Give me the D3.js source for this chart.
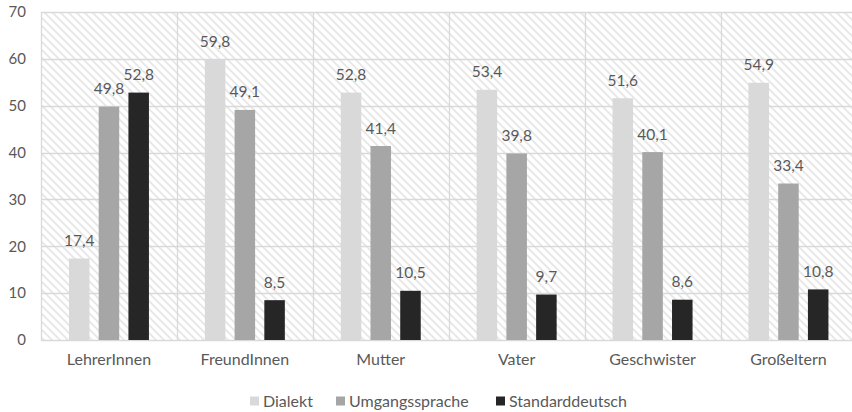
<!DOCTYPE html>
<html>
<head>
<meta charset="utf-8">
<script src="https://cdn.jsdelivr.net/npm/d3@7"></script>
<style>
  html, body { margin: 0; padding: 0; background: #ffffff; }
  svg { display: block; }
  text { font-family: Lato, "Open Sans", sans-serif; fill: #595959; }
</style>
</head>
<body>
<svg id="chart" width="852" height="412"></svg>
<script>
const categories = ["LehrerInnen", "FreundInnen", "Mutter", "Vater", "Geschwister", "Großeltern"];
const seriesNames = ["Dialekt", "Umgangssprache", "Standarddeutsch"];
const dialekt = [17.4, 59.8, 52.8, 53.4, 51.6, 54.9];
const umgangssprache = [49.8, 49.1, 41.4, 39.8, 40.1, 33.4];
const standarddeutsch = [52.8, 8.5, 10.5, 9.7, 8.6, 10.8];
const yTicks = [0, 10, 20, 30, 40, 50, 60, 70];
const colors = ["#d9d9d9", "#a6a6a6", "#262626"];

const seriesValues = [dialekt, umgangssprache, standarddeutsch];
const data = categories.map((c, i) => ({
  category: c,
  values: seriesNames.map((s, j) => ({ series: s, value: seriesValues[j][i], color: colors[j] }))
}));

const svg = d3.select("#chart");
const plot = { left: 41, top: 12, right: 856.4, bottom: 340 };

const x = d3.scaleBand().domain(categories).range([plot.left, plot.right]).paddingInner(0).paddingOuter(0);
const x1 = d3.scaleBand().domain(seriesNames).range([0, x.bandwidth()]).paddingInner(0.31).paddingOuter(0.94);
const y = d3.scaleLinear().domain([0, 70]).range([plot.bottom, plot.top]);

// hatch pattern
const defs = svg.append("defs");
const pat = defs.append("pattern")
  .attr("id", "hatch")
  .attr("patternUnits", "userSpaceOnUse")
  .attr("width", 8).attr("height", 8);
pat.append("rect").attr("width", 8).attr("height", 8).attr("fill", "#ffffff");
pat.append("path")
  .attr("d", "M-2,-2 L10,10 M-2,6 L2,10 M6,-2 L10,2")
  .attr("stroke", "#e6e6e6").attr("stroke-width", 1.7).attr("fill", "none");

svg.append("rect")
  .attr("x", plot.left).attr("y", plot.top)
  .attr("width", plot.right - plot.left).attr("height", plot.bottom - plot.top)
  .attr("fill", "url(#hatch)");

// horizontal gridlines
svg.append("g").selectAll("line").data(yTicks).join("line")
  .attr("x1", plot.left).attr("x2", plot.right)
  .attr("y1", d => Math.round(y(d)) + 0.5).attr("y2", d => Math.round(y(d)) + 0.5)
  .attr("stroke", "#d9d9d9").attr("stroke-width", 1.3);

// vertical gridlines (group separators)
const seps = categories.map(c => x(c)).concat([x(categories[categories.length - 1]) + x.bandwidth()]);
svg.append("g").selectAll("line").data(seps).join("line")
  .attr("x1", d => Math.round(d) + 0.5).attr("x2", d => Math.round(d) + 0.5)
  .attr("y1", plot.top).attr("y2", plot.bottom)
  .attr("stroke", "#d9d9d9").attr("stroke-width", 1.3);

// y axis labels
const yAxis = d3.axisLeft(y).tickValues(yTicks).tickSize(0).tickPadding(0).tickFormat(d3.format("d"));
const gy = svg.append("g").attr("transform", `translate(26,0)`).call(yAxis);
gy.select(".domain").remove();
gy.selectAll("text").attr("font-size", 15).attr("fill", "#595959").style("font-family", "Lato, sans-serif");

// x axis labels
const xAxis = d3.axisBottom(x).tickSize(0).tickPadding(0);
const gx = svg.append("g").attr("transform", `translate(0,${plot.bottom + 14})`).call(xAxis);
gx.select(".domain").remove();
gx.selectAll("text").attr("font-size", 16).attr("fill", "#595959").style("font-family", "Lato, sans-serif");

// bars
const groups = svg.append("g").selectAll("g").data(data).join("g")
  .attr("transform", d => `translate(${x(d.category)},0)`);

groups.selectAll("rect").data(d => d.values).join("rect")
  .attr("x", d => x1(d.series))
  .attr("width", x1.bandwidth())
  .attr("y", d => y(d.value))
  .attr("height", d => y(0) - y(d.value))
  .attr("fill", d => d.color);

const fmt = v => d3.format(".1f")(v).replace(".", ",");
groups.selectAll("text.val").data(d => d.values).join("text")
  .attr("class", "val")
  .attr("x", d => x1(d.series) + x1.bandwidth() / 2)
  .attr("y", d => y(d.value) - 12.5)
  .attr("text-anchor", "middle")
  .attr("font-size", 15.5)
  .text(d => fmt(d.value));

// legend
const legendX = [250, 336, 496];
const lg = svg.append("g").selectAll("g").data(seriesNames).join("g")
  .attr("transform", (d, i) => `translate(${legendX[i]},401)`);
lg.append("rect").attr("x", 0).attr("y", -4.5).attr("width", 9).attr("height", 9)
  .attr("fill", (d, i) => colors[i]);
lg.append("text").attr("x", 13).attr("y", 0).attr("dy", "0.35em")
  .attr("font-size", 16).text(d => d);
</script>
</body>
</html>
